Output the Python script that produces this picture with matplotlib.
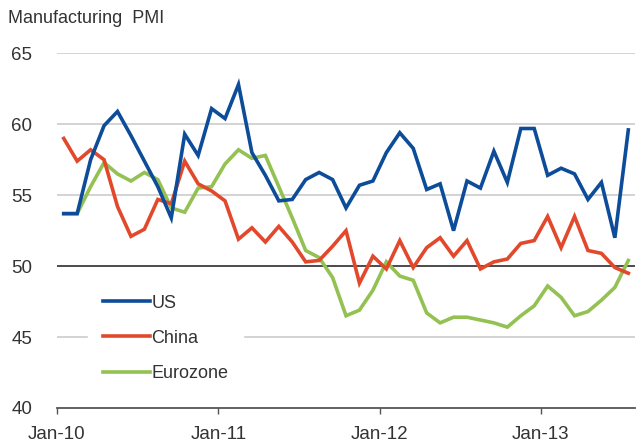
import matplotlib
matplotlib.use("Agg")
import matplotlib.pyplot as plt

# monthly readings, Jan-10 .. Jul-13
months = list(range(43))
us = [53.7, 53.7, 57.5, 59.9, 60.9, 59.2, 57.4, 55.6, 53.4, 59.3,
      57.8, 61.1, 60.4, 62.8, 58.0, 56.4, 54.6, 54.7, 56.1, 56.6,
      56.1, 54.1, 55.7, 56.0, 58.0, 59.4, 58.3, 55.4, 55.8, 52.5,
      56.0, 55.5, 58.1, 55.9, 59.7, 59.7, 56.4, 56.9, 56.5, 54.7,
      55.9, 52.0, 59.6]
china = [59.0, 57.4, 58.2, 57.5, 54.2, 52.1, 52.6, 54.7, 54.4, 57.4,
         55.8, 55.3, 54.6, 51.9, 52.7, 51.7, 52.8, 51.7, 50.3, 50.4,
         51.4, 52.5, 48.8, 50.7, 49.8, 51.8, 49.9, 51.3, 52.0, 50.7,
         51.8, 49.8, 50.3, 50.5, 51.6, 51.8, 53.5, 51.3, 53.5, 51.1,
         50.9, 49.9, 49.5]
eurozone = [53.7, 53.7, 55.6, 57.3, 56.5, 56.0, 56.6, 56.1, 54.1, 53.8,
            55.5, 55.6, 57.2, 58.2, 57.6, 57.8, 55.6, 53.4, 51.1, 50.6,
            49.2, 46.5, 46.9, 48.3, 50.3, 49.3, 49.0, 46.7, 46.0, 46.4,
            46.4, 46.2, 46.0, 45.7, 46.5, 47.2, 48.6, 47.8, 46.5, 46.8,
            47.6, 48.5, 50.4]
tick_labels = ["Jan-10", "Jan-11", "Jan-12", "Jan-13"]

plt.rcParams["font.family"] = ["Liberation Sans", "DejaVu Sans"]
text_col = "#333333"

fig = plt.figure(figsize=(6.37, 4.48), dpi=100)
ax = fig.add_axes([0.0895, 0.0893, 0.9074, 0.7917])

# points sit in the middle of each month slot
xs = [m + 0.5 for m in months]
ax.plot(xs, us, color="#0d4c99", lw=2.6, label="US", solid_joinstyle="miter", zorder=4)
ax.plot(xs, china, color="#e2492c", lw=2.6, label="China", solid_joinstyle="miter", zorder=3)
ax.plot(xs, eurozone, color="#93c152", lw=2.6, label="Eurozone", solid_joinstyle="miter", zorder=2)

ax.set_xlim(0, 43)
ax.set_ylim(40, 65)
ax.set_yticks([40, 45, 50, 55, 60, 65])
ax.set_xticks([0, 12, 24, 36])
ax.set_xticklabels(tick_labels)

for v in [45, 55, 60, 65]:
    ax.axhline(v, color="#c8c8c8", lw=1.1, zorder=0)
ax.axhline(50, color="#1a1a1a", lw=1.1, zorder=1)

for side in ["top", "right", "left"]:
    ax.spines[side].set_visible(False)
ax.spines["bottom"].set_color("#555555")
ax.spines["bottom"].set_linewidth(1.3)

ax.tick_params(axis="y", length=0, pad=18, labelsize=13.5, labelcolor=text_col)
ax.tick_params(axis="x", direction="out", length=4, width=1, color="#555555",
               pad=9, labelsize=13.5, labelcolor=text_col)

leg = ax.legend(loc="upper left", bbox_to_anchor=(0.054, 0.36), fontsize=13,
                frameon=True, framealpha=1, facecolor="white", edgecolor="white",
                fancybox=False, handlelength=2.6, handletextpad=0.1,
                labelspacing=1.0, borderpad=0.8, borderaxespad=0)
for t in leg.get_texts():
    t.set_color(text_col)
leg.set_zorder(5)

fig.text(0.0126, 0.958, "Manufacturing  PMI", fontsize=13, color=text_col,
         ha="left", va="center")

fig.savefig("out.png", dpi=100)
